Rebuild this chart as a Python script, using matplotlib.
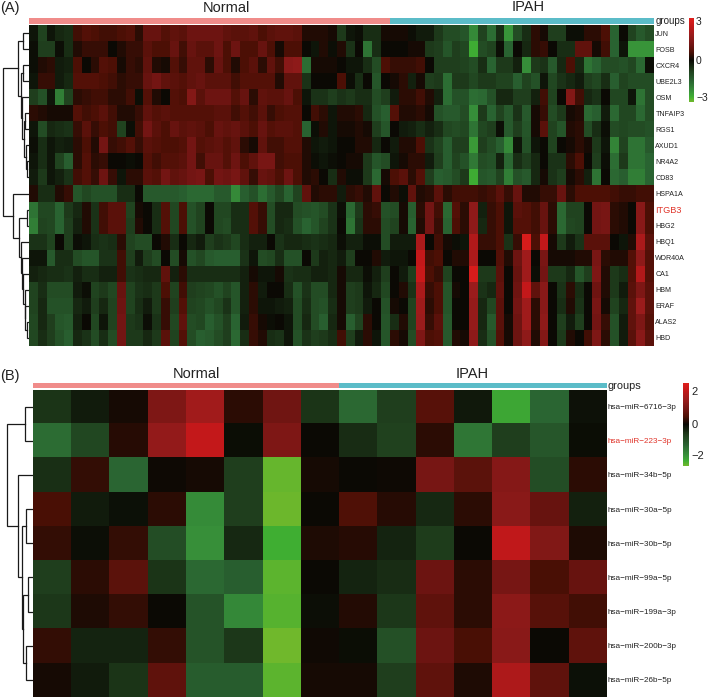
import numpy as np
import matplotlib
matplotlib.use("Agg")
import matplotlib.pyplot as plt
from matplotlib.colors import LinearSegmentedColormap, ListedColormap, TwoSlopeNorm

plt.rcParams['font.family'] = ['Liberation Sans', 'DejaVu Sans']

genes = ["JUN", "FOSB", "CXCR4", "UBE2L3", "OSM", "TNFAIP3", "RGS1", "AXUD1", "NR4A2", "CD83",
         "HSPA1A", "ITGB3", "HBG2", "HBQ1", "WDR40A", "CA1", "HBM", "ERAF", "ALAS2", "HBD"]

# 41 normal samples then 30 IPAH samples
jun = [-0.2,-1.0,-0.2,-0.5,-0.6,0.5,0.7,0.6,0.5,0.5,0.6,0.7,0.3,1.0,1.0,0.7,0.9,0.8,1.1,1.1,1.1,1.1,0.9,0.8,0.8,0.9,0.6,0.8,0.9,0.9,0.8,0.2,0.2,0.2,0.1,-0.8,-0.2,
       -0.1,-0.6,-0.6,0.1,0.1,0.1,-0.1,-0.3,-0.3,-0.8,-1.2,-1.2,-1.4,-2.4,-1.0,-1.9,-0.6,-2.6,-1.2,-0.6,0.3,0.1,-0.9,-0.9,-0.1,-0.1,0.3,0.3,0.6,-1.7,0.0,-1.0,-1.5,-1.2]
fosb = [-0.1,-0.9,-0.9,-0.1,-0.6,0.2,0.4,0.4,0.4,0.0,0.2,0.4,0.4,0.8,0.6,0.6,1.0,0.5,1.0,0.8,0.8,1.1,0.6,1.1,0.6,0.6,1.0,0.6,0.1,0.6,0.6,0.0,-0.2,0.2,-0.1,0.2,-0.7,
        0.0,-2.0,-0.6,0.0,0.0,0.0,0.1,0.1,-0.8,-0.9,-1.4,-0.9,-1.1,-3.0,-1.2,-1.0,-0.1,-1.7,0.0,-0.5,0.3,0.4,0.0,-0.6,-0.6,0.9,0.9,0.1,0.5,-1.7,-0.2,-2.6,-2.6,-2.6]
cxcr4 = [-0.1,0.2,0.3,-0.3,-0.4,0.6,0.0,0.3,0.7,0.6,0.1,0.4,0.3,0.9,0.2,0.1,0.7,0.4,0.9,0.9,0.3,1.0,0.6,0.2,0.6,0.8,0.3,0.9,0.5,1.6,1.7,-1.9,0.1,0.1,0.1,0.0,-0.2,
         -0.2,-0.6,-1.2,0.6,0.4,0.4,0.4,0.5,0.0,-0.9,-0.9,-0.9,-1.0,-1.2,-0.6,-1.7,-0.8,-0.8,-0.4,-2.5,-0.8,-0.7,-1.5,-0.5,0.6,-0.5,-2.0,-1.7,-1.2,-1.2,-1.3,-1.1,-1.8,-0.1]
ube2l3 = [-0.2,0.4,0.4,-0.3,-0.5,0.7,0.7,0.7,0.6,0.5,0.3,0.4,0.4,1.0,1.2,0.9,0.8,0.7,0.9,1.0,0.8,0.8,0.8,0.5,0.7,0.7,0.7,0.7,0.2,0.9,0.9,-0.7,0.0,0.0,0.0,0.6,-0.1,
          -0.6,0.0,-1.4,0.0,0.1,0.3,-0.4,0.1,-0.9,-0.8,-1.9,-0.8,-0.8,-1.1,-0.8,-0.8,-1.0,-1.0,-1.6,-1.0,-1.3,-0.2,-1.1,-0.7,-0.5,-0.3,-0.9,-1.1,-0.6,-1.6,-1.0,-1.2,-1.2,-1.2]
osm = [-0.9,-1.3,-0.2,-2.2,-1.0,0.3,0.4,0.5,0.5,0.3,0.3,0.5,-0.1,0.7,0.2,0.0,0.7,0.6,1.5,0.8,1.1,1.1,1.1,0.7,1.0,0.3,0.9,0.8,0.8,1.0,0.6,-0.2,-0.7,-0.7,-0.9,-0.7,-0.8,
       -0.6,-0.6,-1.2,-0.9,-0.3,0.3,0.3,0.5,0.2,-0.4,-1.9,-1.3,-1.3,-1.9,-1.8,-1.3,-0.5,-0.5,-0.9,-0.9,-0.4,0.5,-1.0,0.0,1.5,0.5,-0.5,-0.7,0.0,-1.1,-1.1,-0.2,-2.0,-1.2]
tnfaip3 = [0.3,0.2,0.1,0.1,0.1,0.7,0.5,0.6,0.8,0.5,0.2,0.2,0.4,0.9,0.7,0.8,0.7,0.7,0.7,0.7,0.7,0.8,0.8,0.5,0.7,0.5,0.8,0.4,0.6,0.7,0.7,0.0,0.5,0.3,-0.2,0.2,0.2,
           0.3,-0.5,-1.3,-1.6,0.7,0.2,0.2,0.3,0.1,-1.3,-1.5,-1.5,-1.2,-2.5,-0.8,-1.7,-1.0,-1.5,-0.7,-1.5,0.1,0.4,-1.2,-0.8,0.1,0.2,-1.8,-1.6,-0.3,-1.8,-1.1,-1.1,-1.8,-1.2]
rgs1 = [-0.2,-1.2,-0.5,-0.6,-0.7,0.4,0.8,0.4,0.6,0.5,-1.0,-0.1,0.5,1.2,0.8,0.6,1.0,0.8,0.9,0.8,0.6,1.0,0.9,1.0,0.8,0.6,1.0,0.7,0.8,0.8,0.7,-1.7,-0.1,0.2,-0.2,0.1,0.1,
        0.2,0.1,-0.9,-1.4,0.0,-0.3,-0.4,-0.6,-0.4,-0.6,-1.1,-1.2,-1.1,-2.0,-1.1,-0.9,-0.1,-1.5,-0.9,-1.4,0.1,0.8,-1.0,-1.4,0.2,0.3,-1.2,-0.6,-0.1,-1.2,-1.1,-1.2,-1.2,-1.3]
axud1 = [-0.1,-0.6,-0.2,-0.4,-0.3,0.3,0.6,0.2,1.2,0.4,0.5,0.7,0.4,0.8,0.7,0.6,0.6,0.7,1.2,0.7,0.8,0.9,0.7,0.9,0.3,0.1,0.9,0.5,0.5,0.7,0.7,0.2,-0.2,-0.3,-0.2,0.0,0.0,
         0.2,0.2,-0.5,0.0,-0.3,0.2,0.2,0.6,-0.7,-1.0,-1.6,-0.9,-0.9,-2.7,-0.9,-1.2,-1.6,-2.4,-0.2,-1.3,-0.2,0.0,-1.0,0.0,0.1,0.3,0.1,-0.8,-0.2,-2.3,-1.0,-2.0,-2.0,-1.5]
nr4a2 = [-0.2,-0.6,-0.2,-1.0,-1.6,0.3,0.7,0.3,0.4,0.0,0.0,-0.1,0.0,0.7,0.5,0.7,0.7,0.8,1.2,0.5,1.0,1.0,0.7,1.1,0.6,0.9,1.3,1.3,0.5,0.6,0.6,0.2,-0.1,-0.2,-0.1,0.0,0.1,
         0.1,-0.8,-1.4,-1.2,-0.2,0.1,0.3,0.3,-0.3,-0.9,-1.6,-1.0,-1.3,-2.1,-1.2,-1.3,-0.4,-1.8,-0.6,-0.9,-0.5,0.0,-0.7,-0.7,0.3,0.6,0.0,-0.9,-0.1,-1.9,-0.8,-2.0,-2.0,-1.7]
cd83 = [-0.3,-0.8,-0.2,-0.4,-0.7,0.5,0.7,0.4,1.1,0.4,-0.2,0.3,0.3,0.8,0.7,1.2,0.9,1.0,1.2,1.3,0.6,1.2,1.1,1.3,0.9,0.4,1.0,0.9,0.6,1.1,0.6,0.2,0.3,0.0,-0.6,0.2,-0.1,
        -0.1,-0.8,-1.8,0.1,0.6,0.8,0.3,0.7,-0.9,-1.6,-1.5,-1.2,-0.8,-3.0,-1.4,-1.5,-1.0,-2.2,-1.3,-1.5,-0.5,0.1,-0.7,-0.9,0.1,0.3,-0.4,-2.0,0.0,-1.8,-1.6,-2.2,-2.2,-1.7]
hspa1a = [0.2,-0.6,-0.6,0.2,0.4,-1.4,-1.1,-1.3,-1.3,-1.3,-0.6,-0.6,0.0,-1.5,-1.5,-1.5,-1.5,-1.6,-1.8,-1.8,-1.8,-1.5,-1.5,-2.4,-1.6,-1.3,-1.9,-1.5,-1.1,-1.7,-1.0,0.9,0.2,0.3,0.3,-0.3,0.3,
          0.4,0.2,0.9,0.0,0.2,-0.1,0.9,0.2,0.3,0.8,0.3,0.5,0.5,0.5,0.4,0.5,0.8,0.4,1.0,0.2,0.2,0.4,0.4,1.0,0.3,0.6,0.6,0.6,0.6,0.5,0.4,0.4,0.5,0.5]
itgb3 = [-2.0,-1.1,-1.1,-1.7,-0.8,-0.5,0.2,-0.7,0.5,0.8,0.8,-1.0,0.1,0.0,-0.6,0.7,-1.1,0.6,-1.3,-1.0,0.0,-1.1,-1.1,-0.6,-0.6,0.7,0.4,-1.2,-0.5,-0.5,-1.2,-1.3,-1.4,-1.2,-0.7,-0.1,-1.8,
         -0.8,0.3,0.4,-1.3,-1.2,0.1,-1.6,0.3,1.2,0.5,-1.8,0.7,0.3,1.7,-0.4,0.4,0.6,-0.2,0.8,0.7,0.5,1.0,0.3,-1.8,-1.0,-1.0,0.0,1.2,1.3,0.3,0.2,0.0,1.6,0.6]
hbg2 = [-2.2,-1.0,-1.1,-1.7,-0.9,-0.4,0.2,-0.7,0.5,0.8,0.8,-0.9,0.2,0.0,-0.6,0.7,-1.1,0.6,-1.3,-1.0,0.0,-1.1,-1.2,-0.6,-0.6,0.7,0.4,-1.2,-0.5,-0.6,-1.3,-1.7,-1.4,-1.0,-0.7,0.0,-2.0,
        -0.7,0.3,0.3,-1.2,-1.0,0.1,-1.7,0.2,1.2,0.4,-1.7,0.6,0.3,1.7,-0.5,0.4,0.6,-0.2,0.7,0.7,0.5,1.0,0.3,-1.8,-1.1,-1.0,0.0,1.2,1.3,0.3,0.2,0.0,1.6,0.6]
hbq1 = [-0.7,-0.7,-1.0,0.0,-0.9,-0.1,-0.2,-0.6,-0.7,-0.6,0.3,-1.0,-1.2,-1.2,0.0,0.2,-0.6,0.0,-0.5,-0.3,-0.9,-0.7,-0.8,-1.1,-0.6,-0.4,-0.4,0.0,-0.7,-0.5,-0.5,-0.6,-0.7,-0.6,-0.5,-0.1,-0.4,
        -0.4,-0.1,-0.1,-1.2,-0.3,-0.3,-0.3,2.2,0.0,0.5,0.1,-0.1,-0.2,2.3,0.4,0.4,0.6,-0.7,0.4,3.0,0.6,2.6,0.1,-0.8,-0.3,-0.7,0.8,0.8,0.8,0.0,-0.2,0.2,2.2,0.8]
wdr40a = [-0.2,-0.2,-1.5,-0.6,-0.6,-1.2,-1.4,-1.4,-0.7,-0.7,0.5,-0.9,-0.3,-0.9,-1.2,0.0,-1.2,0.1,-1.3,-1.1,-1.5,-1.6,-1.6,-1.6,-0.7,-0.2,-1.2,-1.1,-0.6,-1.3,-1.3,0.0,-0.8,-0.4,-0.5,-0.3,-0.9,
          0.0,0.0,0.2,-0.3,-0.2,-0.2,0.0,2.6,0.5,0.6,0.0,0.2,0.2,2.2,0.0,0.0,0.7,0.2,1.1,2.0,0.0,1.3,0.1,0.1,0.1,0.2,0.2,1.3,0.3,0.2,0.2,0.7,1.7,0.7]
ca1 = [-0.4,-0.5,-0.6,-0.6,-0.7,-0.4,-0.6,-0.6,-0.4,-0.4,0.5,-0.7,-0.6,-0.5,-0.5,0.9,-0.4,0.3,-0.6,-0.6,-0.6,-0.6,-0.6,-0.6,-0.4,0.1,-0.2,-0.2,0.1,-0.7,-0.6,-0.6,-0.4,-0.4,-0.5,0.1,-0.5,
       -0.5,-0.1,-0.4,-0.9,0.0,-0.3,-0.9,2.7,0.6,0.4,-1.0,0.0,0.0,3.0,-0.8,-0.8,0.8,0.0,1.0,2.0,-0.1,1.2,-0.8,-0.8,-0.5,-1.4,-0.9,1.4,0.2,-0.8,-0.6,0.7,2.3,0.7]
hbm = [-1.0,-0.6,-1.2,-1.2,-1.2,-0.3,-0.1,-1.0,-0.8,-1.1,1.0,-1.0,-0.7,-0.6,-0.8,0.6,-1.0,0.5,-0.9,-1.0,-1.1,-1.3,-1.0,-1.4,-0.4,0.3,-0.3,0.0,0.0,-0.6,-1.3,-0.7,-1.2,-1.2,-0.5,0.1,-0.9,
       -0.8,-0.2,-0.5,-1.1,0.0,0.2,-0.7,2.2,0.4,0.6,-1.4,0.1,0.0,1.9,-0.7,-0.5,0.9,0.0,1.1,2.6,0.9,1.6,0.0,-0.7,0.3,-0.6,0.0,1.1,0.2,-0.8,-0.3,0.8,1.4,0.8]
eraf = [-1.0,-0.5,-1.3,-1.3,-1.3,-0.5,-0.3,-0.9,-0.5,-1.0,1.1,-1.0,-0.6,-0.3,-0.8,0.4,-0.9,0.7,-1.0,-1.1,-1.3,-1.1,-0.7,-1.4,-0.4,0.3,-0.2,-0.2,-0.3,-0.4,-1.2,-0.6,-1.2,-1.3,-0.6,0.1,-0.9,
        -0.8,-0.3,0.0,-1.3,0.1,0.0,-1.0,2.0,0.3,0.6,-1.4,0.0,0.0,1.8,-0.5,-1.1,0.8,0.0,1.2,2.0,0.3,1.6,0.0,-0.6,0.2,-0.7,0.0,1.3,0.1,-1.0,-0.5,0.9,1.9,0.8]
alas2 = [-1.1,-0.5,-0.9,-1.4,-1.5,-0.4,0.0,-1.1,-0.2,-1.0,1.2,-0.8,-0.7,-0.1,-0.7,0.4,-1.1,0.9,-1.2,-1.1,-1.6,-1.3,-0.9,-1.7,-0.3,0.4,0.1,-0.1,0.0,-0.2,-1.2,-0.5,-1.2,-1.6,-0.5,0.1,-1.6,
         -1.0,0.3,0.0,-1.4,-0.6,0.2,-1.0,1.9,0.4,0.8,-1.5,0.0,0.0,1.8,-0.5,-1.5,0.8,0.1,1.1,2.0,0.3,1.7,0.0,-0.9,-0.3,-0.9,0.0,1.2,0.4,-1.3,-0.3,0.9,1.4,0.7]
hbd = [-1.1,-0.6,-0.9,-1.3,-1.6,-0.5,-0.7,-1.2,-0.6,-1.2,1.2,-0.8,-0.8,-0.5,-0.8,0.8,-1.0,0.7,-1.2,-1.6,-1.5,-1.2,-0.9,-1.8,-0.6,0.4,0.2,-0.6,-0.7,-0.2,-1.3,-0.7,-0.9,-0.8,-0.6,0.5,-0.9,
       -0.3,0.3,-0.2,-1.4,0.3,0.1,-1.2,1.4,0.6,0.7,-1.5,0.2,0.1,1.7,-0.6,-1.3,0.7,0.1,1.1,1.7,0.2,1.5,0.0,-0.8,0.2,0.0,0.5,1.4,0.3,-1.3,-0.3,0.8,1.6,0.8]

top_groups = [0] * 41 + [1] * 30

mirnas = ["hsa−miR−6716−3p", "hsa−miR−223−3p", "hsa−miR−34b−5p", "hsa−miR−30a−5p", "hsa−miR−30b−5p",
          "hsa−miR−99a−5p", "hsa−miR−199a−3p", "hsa−miR−200b−3p", "hsa−miR−26b−5p"]

# 8 normal then 7 IPAH
mir_6716 = [-0.55,-0.25,0.08,1.1,1.6,0.25,0.9,-0.55,-1.4,-0.7,0.6,-0.2,-2.25,-1.35,-0.12]
mir_223 = [-1.45,-0.85,0.2,1.4,2.05,-0.05,1.1,0.0,-0.45,-0.75,0.25,-1.6,-0.7,-1.1,-0.05]
mir_34b = [-0.5,0.3,-1.35,0.03,0.08,-0.7,-2.6,0.08,0.0,0.02,1.0,0.65,1.2,-0.95,0.25]
mir_30a = [0.45,-0.25,-0.1,0.25,-1.9,-0.7,-2.65,0.0,0.5,0.2,-0.4,0.25,1.25,0.8,-0.3]
mir_30b = [0.3,-0.08,0.3,-0.95,-1.95,-0.4,-2.35,0.15,0.2,-0.35,-0.65,0.0,2.0,1.15,0.15]
mir_99a = [-0.7,0.25,0.65,-0.55,-1.4,-1.25,-2.55,0.0,-0.35,-0.45,0.85,0.25,1.0,0.45,0.8]
mir_199a = [-0.6,0.15,0.3,0.0,-1.05,-1.85,-2.5,-0.08,0.18,-0.6,0.7,0.25,1.3,0.6,0.4]
mir_200b = [0.3,-0.35,-0.35,0.3,-1.05,-0.6,-2.68,0.05,-0.05,-1.0,0.85,0.45,1.25,0.0,0.7]
mir_26b = [0.08,-0.25,-0.55,0.7,-1.2,-1.2,-2.55,0.08,0.08,-0.7,0.7,0.15,1.75,0.7,-0.1]

bottom_groups = [0] * 8 + [1] * 7

# trees as (height, a, b), leaves are row numbers
top_tree = (77,
            (32, (17, 0, 1),
             (25, (17, 2, 3),
              (22, 4, (15, (13, 5, 6), (10, 7, (7, 8, 9)))))),
            (47, 10,
             (30, (5, 11, 12),
              (24, 13, (22, 14, (17, 15, (13, 16, (11, 17, (7, 18, 19)))))))))
bottom_tree = (75,
               (22, 0, 1),
               (44, 2,
                (32, (19, 3, 4),
                 (27, (12, 5, 6), (19, 7, 8)))))

W, H = 709, 698
fig = plt.figure(figsize=(W / 100, H / 100), dpi=100)


def add_ax(x0, y0, x1, y1):
    return fig.add_axes([x0 / W, 1 - y1 / H, (x1 - x0) / W, (y1 - y0) / H])


def draw_tree(ax, node):
    if not isinstance(node, tuple):
        return node, 0
    y1, h1 = draw_tree(ax, node[1])
    y2, h2 = draw_tree(ax, node[2])
    ax.plot([h1, node[0], node[0], h2], [y1, y1, y2, y2], color="#1a1a1a", lw=0.9, solid_joinstyle="miter")
    return (y1 + y2) / 2, node[0]


cmap = LinearSegmentedColormap.from_list("gbr", [
    (0.0, "#70b82c"), (0.06, "#3fae33"), (0.125, "#38933a"), (0.25, "#2a6432"), (0.375, "#1f3d1c"),
    (0.5, "#0a0904"), (0.6, "#4f1006"), (0.675, "#6e1512"), (0.8, "#9a1c1c"), (0.9, "#c0181a"), (1.0, "#e01e1c")])
group_cmap = ListedColormap(["#f08c8a", "#5bbcc8"])


def panel(values, groups, labels, tree, norm, box, bar_y, tree_max, cbar_box, ticks, cbar_size, cbar_pad, label_size, red, red_size, group_size):
    x0, y0, x1, y1 = box
    ax = add_ax(x0, y0, x1, y1)
    im = ax.imshow(values, cmap=cmap, norm=norm, aspect="auto", interpolation="nearest")
    ax.set_xticks([])
    ax.yaxis.tick_right()
    ax.set_yticks(range(len(labels)))
    ax.set_yticklabels(labels, fontsize=label_size, color="#222222")
    ax.tick_params(length=0, pad=1)
    for t in ax.get_yticklabels():
        if t.get_text() == red:
            t.set_color("#e0352b")
            t.set_fontsize(red_size)
    for s in ax.spines.values():
        s.set_visible(False)

    bar = add_ax(x0, bar_y[0], x1, bar_y[1])
    bar.imshow([groups], cmap=group_cmap, aspect="auto", interpolation="nearest")
    bar.axis("off")
    fig.text((x1 + 1.5) / W, 1 - (bar_y[0] + bar_y[1]) / 2 / H, "groups", fontsize=group_size,
             color="#222222", va="center", ha="left")

    tr = add_ax(0, y0, x0, y1)
    draw_tree(tr, tree)
    tr.set_xlim(tree_max, 0)
    tr.set_ylim(len(labels) - 0.5, -0.5)
    tr.axis("off")

    cax = add_ax(*cbar_box)
    cb = fig.colorbar(im, cax=cax, ticks=ticks, spacing="proportional")
    cb.outline.set_visible(False)
    cb.ax.tick_params(length=0, pad=cbar_pad, labelsize=cbar_size, labelcolor="#222222")


top_values = np.array([jun, fosb, cxcr4, ube2l3, osm, tnfaip3, rgs1, axud1, nr4a2, cd83,
                       hspa1a, itgb3, hbg2, hbq1, wdr40a, ca1, hbm, eraf, alas2, hbd])
bottom_values = np.array([mir_6716, mir_223, mir_34b, mir_30a, mir_30b, mir_99a, mir_199a, mir_200b, mir_26b])

panel(top_values, top_groups, genes, top_tree, TwoSlopeNorm(0, -3.45, 3.2),
      (29, 25, 654, 346), (18.3, 24), 86, (688.7, 18, 694, 102), [-3, 0, 3], 7.5, 1.5, 5.1, "ITGB3", 6.6, 7)
panel(bottom_values, bottom_groups, mirnas, bottom_tree, TwoSlopeNorm(0, -2.68, 2.5),
      (32.5, 389.5, 606, 697), (383.3, 388.3), 97, (683, 382.7, 689, 466), [-2, 0, 2], 8, 2, 5.9, "hsa−miR−223−3p", 5.9, 7.9)

for x, y, s, size, ha in [(0, 8, "(A)", 10.5, "left"), (226, 8, "Normal", 10.5, "center"), (527.7, 7, "IPAH", 10.5, "center"),
                          (0, 376, "(B)", 10.5, "left"), (196, 374, "Normal", 10.5, "center"), (471.7, 374, "IPAH", 10.5, "center")]:
    fig.text(x / W, 1 - y / H, s, fontsize=size, color="#222222", ha=ha, va="center")

fig.savefig("out.png", dpi=100)
